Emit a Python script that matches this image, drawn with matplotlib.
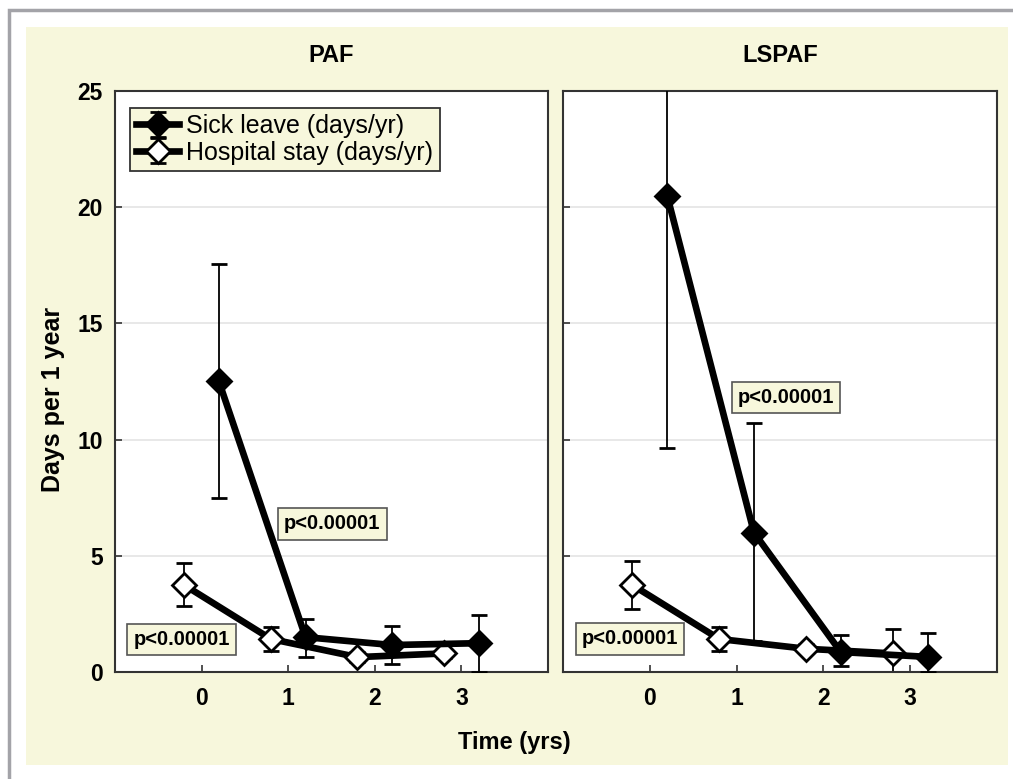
import matplotlib
matplotlib.use("Agg")
import matplotlib.pyplot as plt
from matplotlib.patches import Rectangle

plt.rcParams["font.family"] = ["Liberation Sans", "DejaVu Sans"]

# data
panels = ["PAF", "LSPAF"]
time_points = [0, 1, 2, 3]

sick_paf = [12.5, 1.5, 1.16, 1.24]
sick_paf_lo = [7.5, 0.65, 0.33, 0.0]
sick_paf_hi = [17.55, 2.3, 2.0, 2.45]
hosp_paf = [3.74, 1.42, 0.64, 0.8]
hosp_paf_lo = [2.84, 0.9, 0.45, 0.6]
hosp_paf_hi = [4.7, 1.95, 0.85, 1.0]

sick_lspaf = [20.5, 6.0, 0.86, 0.65]
sick_lspaf_lo = [9.64, 1.35, 0.26, 0.0]
sick_lspaf_hi = [31.4, 10.7, 1.6, 1.68]
hosp_lspaf = [3.74, 1.42, 1.0, 0.8]
hosp_lspaf_lo = [2.7, 0.9, 0.8, 0.0]
hosp_lspaf_hi = [4.78, 1.93, 1.2, 1.85]

# p-value labels: (x, y) in data units
p_text = "p<0.00001"
p_pos_paf = [(1.51, 6.37), (-0.23, 1.38)]
p_pos_lspaf = [(1.57, 11.8), (-0.23, 1.42)]

YELLOW = "#f7f7dc"
W, H = 1013, 779

fig = plt.figure(figsize=(W / 100, H / 100), dpi=100)
fig.patch.set_facecolor("white")
fig.patches.append(Rectangle((9 / W, -0.1), 1.2, 1 - 10 / H + 0.1, transform=fig.transFigure,
                             facecolor="none", edgecolor="#a3a3a8", linewidth=2.5, zorder=-10))
fig.patches.append(Rectangle((26 / W, 1 - 765 / H), (1008 - 26) / W, (765 - 27) / H,
                             transform=fig.transFigure, facecolor=YELLOW, edgecolor="none", zorder=-9))

ax_l = fig.add_axes([115 / W, 1 - 672 / H, 433 / W, 581 / H])
ax_r = fig.add_axes([563 / W, 1 - 672 / H, 434 / W, 581 / H])


def draw_series(ax, x, y, lo, hi, filled, label):
    yerr = [[v - l for v, l in zip(y, lo)], [h - v for v, h in zip(y, hi)]]
    return ax.errorbar(x, y, yerr=yerr, fmt="-", color="black", lw=4.8,
                       marker="D", ms=12.5, mfc="black" if filled else "white",
                       mec="black", mew=2.0, ecolor="black", elinewidth=1.3,
                       capsize=6, capthick=1.3, label=label, zorder=3 if filled else 2)


sets = [
    (ax_l, sick_paf, sick_paf_lo, sick_paf_hi, hosp_paf, hosp_paf_lo, hosp_paf_hi, p_pos_paf),
    (ax_r, sick_lspaf, sick_lspaf_lo, sick_lspaf_hi, hosp_lspaf, hosp_lspaf_lo, hosp_lspaf_hi, p_pos_lspaf),
]

for i, (ax, s, s_lo, s_hi, h, h_lo, h_hi, p_pos) in enumerate(sets):
    xs = [t + 0.2 for t in time_points]
    xh = [t - 0.2 for t in time_points]
    draw_series(ax, xs, s, s_lo, s_hi, True, "Sick leave (days/yr)")
    draw_series(ax, xh, h, h_lo, h_hi, False, "Hospital stay (days/yr)")

    for px, py in p_pos:
        ax.text(px, py, p_text, ha="center", va="center", fontsize=14.5, fontweight="bold",
                zorder=5, bbox=dict(boxstyle="square,pad=0.3", facecolor=YELLOW,
                                    edgecolor="#555555", linewidth=1.2))

    ax.set_xlim(-1, 4)
    ax.set_ylim(0, 25)
    ax.set_xticks(time_points)
    ax.set_yticks([0, 5, 10, 15, 20, 25])
    ax.grid(axis="y", color="#e4e4e4", linewidth=1.2, zorder=0)
    ax.set_axisbelow(True)
    ax.tick_params(direction="in", length=5, width=1.2, color="#333333",
                   labelsize=16.5, pad=11)
    for lab in ax.get_xticklabels() + ax.get_yticklabels():
        lab.set_fontweight("bold")
    for sp in ax.spines.values():
        sp.set_color("#333333")
        sp.set_linewidth(1.5)
    ax.set_title(panels[i], fontsize=17, fontweight="bold", pad=21)
    if i == 1:
        ax.tick_params(labelleft=False)

ax_l.tick_params(axis="y", pad=9)

leg = ax_l.legend(loc="upper left", bbox_to_anchor=(0.035, 0.971), borderaxespad=0,
                  fontsize=18, frameon=True, fancybox=False, handlelength=1.7,
                  handletextpad=0.3, labelspacing=0.1, borderpad=0.25)
leg.get_frame().set_facecolor(YELLOW)
leg.get_frame().set_edgecolor("#333333")
leg.get_frame().set_linewidth(1.3)
leg.get_frame().set_alpha(1)

fig.text(53 / W, 1 - 399 / H, "Days per 1 year", rotation=90, ha="center", va="center",
         fontsize=18, fontweight="bold")
fig.text(514 / W, 1 - 742 / H, "Time (yrs)", ha="center", va="center",
         fontsize=17, fontweight="bold")

fig.savefig("out.png", dpi=100)
